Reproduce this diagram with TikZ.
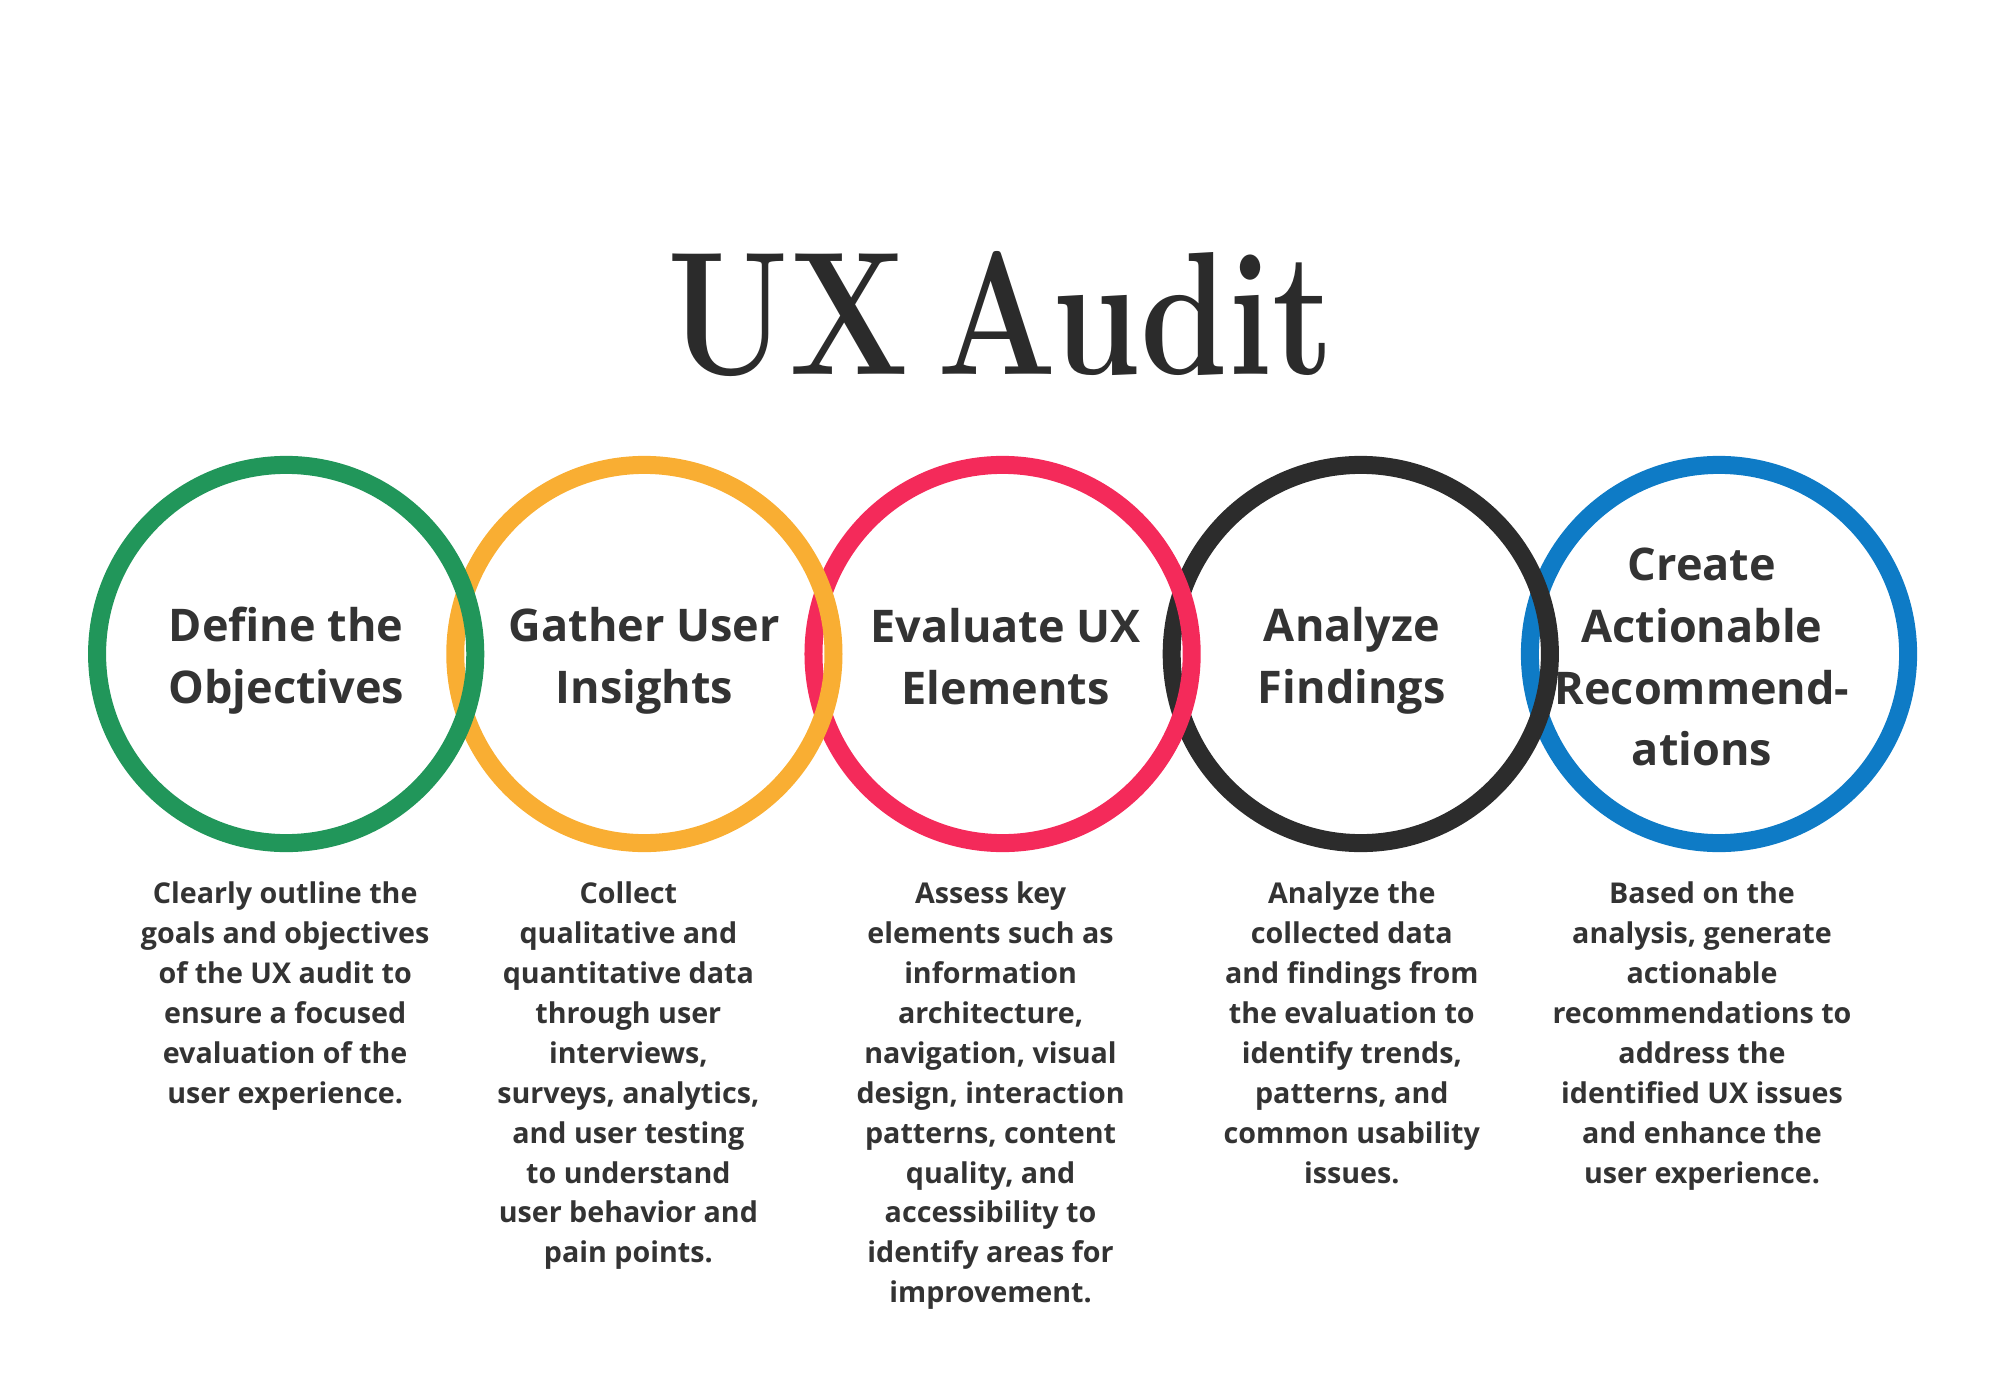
\documentclass[tikz,border=0pt]{standalone}
\usepackage{fontspec}
\usepackage{graphicx}
\usepackage{xcolor}
\usetikzlibrary{positioning}
\newfontfamily\uxsans{Open Sans}
\definecolor{ringGreen}{HTML}{21965A}
\definecolor{ringYellow}{HTML}{F9AE33}
\definecolor{ringRed}{HTML}{F42A5A}
\definecolor{ringBlack}{HTML}{2C2C2C}
\definecolor{ringBlue}{HTML}{0E7BC6}
\definecolor{inkGray}{HTML}{333333}
\definecolor{titleGray}{HTML}{2B2B2B}

\begin{document}
\begin{tikzpicture}[
    x=0.01cm, y=-0.01cm,
    every node/.style={align=center},
    ring/.style={
        circle, draw=#1, line width=0.18cm,
        minimum size=3.78cm, inner sep=0pt, outer sep=0pt
    },
    heading/.style={
        text=inkGray, inner sep=0pt, yshift=-0.07cm,
        font=\uxsans\bfseries\fontsize{12.8}{17.6}\selectfont
    },
    detail/.style={
        text=inkGray, inner sep=0pt,
        font=\uxsans\bfseries\fontsize{8.15}{11.35}\selectfont
    }
]
\useasboundingbox (0,0) rectangle (2000,1400);

% title
\node[anchor=base, text=titleGray, font=\bfseries\fontsize{50}{50}\selectfont] (title) at (1001,374)
    {\scalebox{0.8}[1]{UX\hspace{0.2em}Audit}};

% rings (right to left, so the left ring lies on top)
\node[ring=ringBlue] (create) at (1719,654) {};
\node[ring=ringBlack, left=-0.2cm of create] (analyze) {};
\node[ring=ringRed, left=-0.2cm of analyze] (evaluate) {};
\node[ring=ringYellow, left=-0.2cm of evaluate] (gather) {};
\node[ring=ringGreen, left=-0.2cm of gather] (define) {};

% headings
\node[heading] (defineHead) at (define) {Define the\\Objectives};
\node[heading] (gatherHead) at (gather) {Gather User\\Insights};
\node[heading, xshift=0.03cm, yshift=0.04cm] (evaluateHead) at (evaluate) {Evaluate UX\\Elements};
\node[heading, xshift=-0.09cm] (analyzeHead) at (analyze) {Analyze\\Findings};
\node[heading, xshift=-0.17cm, yshift=0.04cm] (createHead) at (create) {Create\\Actionable\\Recommend-\\ations};

% descriptions
\node[detail, below=0.38cm of define, xshift=-0.01cm] (defineText)
    {Clearly outline the\\goals and objectives\\of the UX audit to\\ensure a focused\\evaluation of the\\user experience.};
\node[detail, below=0.38cm of gather, xshift=-0.16cm] (gatherText)
    {Collect\\qualitative and\\quantitative data\\through user\\interviews,\\surveys, analytics,\\and user testing\\to understand\\user behavior and\\pain points.};
\node[detail, below=0.38cm of evaluate, xshift=-0.12cm] (evaluateText)
    {Assess key\\elements such as\\information\\architecture,\\navigation, visual\\design, interaction\\patterns, content\\quality, and\\accessibility to\\identify areas for\\improvement.};
\node[detail, below=0.38cm of analyze, xshift=-0.09cm] (analyzeText)
    {Analyze the\\collected data\\and findings from\\the evaluation to\\identify trends,\\patterns, and\\common usability\\issues.};
\node[detail, below=0.38cm of create, xshift=-0.17cm] (createText)
    {Based on the\\analysis, generate\\actionable\\recommendations to\\address the\\identified UX issues\\and enhance the\\user experience.};

\end{tikzpicture}
\end{document}
